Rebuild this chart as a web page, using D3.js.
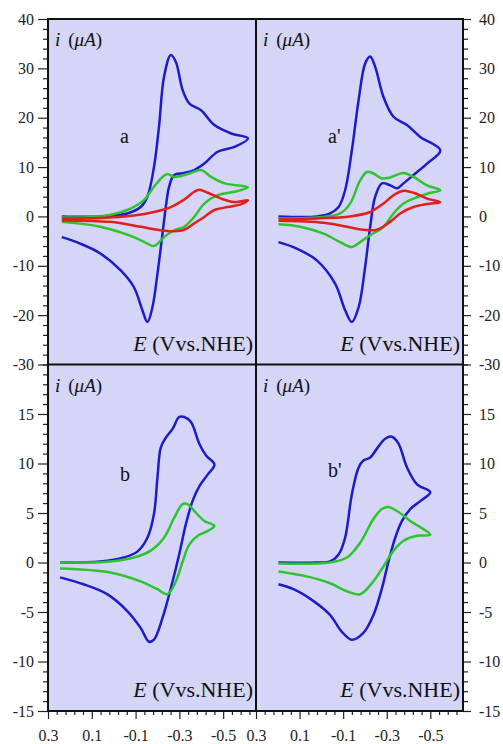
<!DOCTYPE html>
<html>
<head>
<meta charset="utf-8">
<script src="https://cdn.jsdelivr.net/npm/d3@7"></script>
<style>
  body { margin: 0; background: #fff; }
  svg { display: block; }
</style>
</head>
<body>
<div id="chart"></div>
<script>
// CV curves, each point is [E (V vs NHE), i (uA)]
const blueA = [[0.237,0],[0.061,0],[-0.062,0.6],[-0.123,1.9],[-0.154,4],[-0.184,10],[-0.207,18.2],[-0.23,28.3],[-0.261,32.7],[-0.284,31.3],[-0.315,25.6],[-0.345,22.9],[-0.399,21.5],[-0.46,18.5],[-0.537,16.8],[-0.613,15.8],
  [-0.552,14.1],[-0.475,13.1],[-0.414,10.7],[-0.368,9.4],[-0.322,8.8],[-0.276,8.4],[-0.253,6],[-0.238,1.9],[-0.223,-3.5],[-0.2,-11.6],[-0.177,-18.4],[-0.154,-21.4],[-0.131,-19],[-0.092,-14.3],[-0.031,-10.9],[0.061,-7.5],[0.153,-5.5],[0.237,-4.2]];
const greenA = [[0.237,-0.2],[0.061,0],[-0.062,1.3],[-0.138,3.3],[-0.184,6],[-0.223,8],[-0.246,8.6],[-0.276,8],[-0.307,8.2],[-0.353,8.8],[-0.399,9.4],[-0.445,8],[-0.506,6.7],[-0.613,5.9],
  [-0.552,5],[-0.475,4.3],[-0.414,2.6],[-0.368,-0.1],[-0.322,-2.1],[-0.276,-2.8],[-0.23,-4.2],[-0.184,-6],[-0.154,-5.5],[-0.092,-4.2],[0.061,-2.1],[0.237,-1.1]];
const redA = [[0.237,-0.4],[0.061,-0.3],[-0.092,0.2],[-0.184,0.9],[-0.261,1.9],[-0.322,3.4],[-0.368,5],[-0.391,5.4],[-0.43,4.8],[-0.491,3.6],[-0.552,2.9],[-0.613,3.3],
  [-0.583,2.5],[-0.521,1.9],[-0.46,1.3],[-0.414,-0.1],[-0.368,-1.4],[-0.322,-2.7],[-0.276,-3],[-0.215,-2.8],[-0.123,-2.1],[0.015,-1.1],[0.237,-0.8]];

const blueA2 = [[0.197,0],[0.021,0],[-0.04,0.6],[-0.079,1.9],[-0.109,5.3],[-0.14,13.4],[-0.171,23.6],[-0.201,31],[-0.224,32.4],[-0.247,30.3],[-0.285,24.2],[-0.331,20.2],[-0.393,18.5],[-0.454,16.1],[-0.546,13.4],
  [-0.485,10.7],[-0.423,8.4],[-0.377,6.7],[-0.347,5.7],[-0.316,6.3],[-0.278,6.7],[-0.247,4],[-0.224,-2.1],[-0.201,-10.2],[-0.171,-18.4],[-0.14,-21.4],[-0.109,-19],[-0.063,-13.6],[0.021,-8.9],[0.113,-6.5],[0.197,-5.2]];
const greenA2 = [[0.197,-0.4],[-0.01,-0.1],[-0.086,0.6],[-0.132,2.6],[-0.178,7.3],[-0.209,9],[-0.239,8.7],[-0.278,7.7],[-0.316,7.9],[-0.377,8.8],[-0.423,8],[-0.485,6.3],[-0.546,5.3],
  [-0.485,4.6],[-0.423,3.6],[-0.377,2.6],[-0.331,0.6],[-0.285,-2.1],[-0.224,-3.8],[-0.178,-5.2],[-0.14,-6.2],[-0.086,-5.2],[-0.01,-3.5],[0.098,-2.1],[0.197,-1.6]];
const redA2 = [[0.197,-0.6],[0.021,-0.4],[-0.132,0],[-0.224,0.9],[-0.285,2.6],[-0.331,4.3],[-0.377,5.2],[-0.423,4.8],[-0.485,3.6],[-0.546,2.9],
  [-0.485,2.5],[-0.423,1.9],[-0.362,0.6],[-0.316,-1.1],[-0.255,-2.7],[-0.193,-2.7],[-0.117,-2.1],[-0.01,-1.3],[0.197,-0.9]];

const blueB = [[0.245,0],[0.061,0.1],[-0.046,0.5],[-0.108,1.1],[-0.154,2.5],[-0.184,4.9],[-0.2,8.6],[-0.215,11.6],[-0.238,12.6],[-0.269,13.5],[-0.299,14.7],[-0.322,14.7],[-0.353,14.2],[-0.391,12],[-0.422,10.8],[-0.46,9.9],
  [-0.43,8.9],[-0.391,7.7],[-0.36,6.2],[-0.33,3.9],[-0.299,0.8],[-0.261,-2.6],[-0.223,-5.6],[-0.184,-7.8],[-0.161,-8],[-0.123,-6.6],[-0.062,-4.9],[0.03,-3.2],[0.138,-2.2],[0.245,-1.5]];
const greenB = [[0.245,0],[0.015,0.1],[-0.092,0.5],[-0.169,1.2],[-0.23,2.5],[-0.276,4.5],[-0.315,5.9],[-0.338,5.9],[-0.368,5.2],[-0.414,4.2],[-0.46,3.7],
  [-0.43,3.2],[-0.384,2.7],[-0.345,1.8],[-0.315,0.1],[-0.284,-1.9],[-0.246,-3.2],[-0.2,-2.7],[-0.123,-1.9],[0.015,-1],[0.245,-0.6]];

const blueB2 = [[0.197,0],[0.021,0],[-0.04,0.1],[-0.079,0.8],[-0.109,2.5],[-0.14,6.9],[-0.171,9.6],[-0.193,10.3],[-0.224,10.6],[-0.255,11.5],[-0.293,12.5],[-0.324,12.7],[-0.354,12],[-0.393,9.6],[-0.439,7.9],[-0.5,7.1],
  [-0.454,6.2],[-0.408,5.4],[-0.37,4.2],[-0.339,2.5],[-0.308,0.1],[-0.278,-2.6],[-0.239,-5.3],[-0.193,-7.1],[-0.14,-7.8],[-0.094,-7],[-0.04,-5.3],[0.036,-3.9],[0.128,-2.7],[0.197,-2.2]];
const greenB2 = [[0.197,-0.1],[-0.04,0],[-0.117,0.5],[-0.178,2],[-0.239,4.4],[-0.278,5.4],[-0.308,5.6],[-0.347,5.2],[-0.408,4.2],[-0.5,2.8],
  [-0.439,2.7],[-0.377,2.2],[-0.331,1.2],[-0.285,-0.4],[-0.239,-1.9],[-0.178,-3.2],[-0.117,-2.9],[-0.04,-2.1],[0.067,-1.4],[0.197,-0.9]];

// ticks
const xTicks = [0.3, 0.1, -0.1, -0.3, -0.5];
const yTicksTop = [40, 30, 20, 10, 0, -10, -20, -30];
const yTicksBottom = [15, 10, 5, 0, -5, -10, -15];

const FONT = 'Liberation Serif';
const blue = '#1c1cc8', green = '#2fc42f', red = '#e0201c';
const W = 503, H = 744;
const pLeft = 48, pMid = 256, pRight = 463;
const pTop = 19, pSplit = 364.5, pBottom = 711;

const svg = d3.select('#chart').append('svg').attr('width', W).attr('height', H);

const xL = d3.scaleLinear().domain([0.3, -0.65]).range([pLeft, pMid]);
const xR = d3.scaleLinear().domain([0.3, -0.65]).range([pMid, pRight]);
const yT = d3.scaleLinear().domain([-30, 40]).range([pSplit, pTop]);
const yB = d3.scaleLinear().domain([-15, 20]).range([pBottom, pSplit]);

const panels = [
    { x: xL, y: yT, label: 'a', ly: 124, curves: [[blueA, blue], [greenA, green], [redA, red]] },
    { x: xR, y: yT, label: "a'", ly: 124, curves: [[blueA2, blue], [greenA2, green], [redA2, red]] },
    { x: xL, y: yB, label: 'b', ly: 116, curves: [[blueB, blue], [greenB, green]] },
    { x: xR, y: yB, label: "b'", ly: 112, curves: [[blueB2, blue], [greenB2, green]] },
];

// 背景
panels.forEach((p) => {
    const [x0, x1] = p.x.range();
    const [y1, y0] = p.y.range();
    svg.append('rect')
        .attr('x', x0).attr('y', y0)
        .attr('width', x1 - x0).attr('height', y1 - y0)
        .attr('fill', '#d5d5f8');
});

// 曲线 + 文字
panels.forEach((p) => {
    const line = d3.line()
        .x((d) => p.x(d[0]))
        .y((d) => p.y(d[1]))
        .curve(d3.curveCatmullRom.alpha(0.5));
    p.curves.forEach(([data, color]) => {
        svg.append('path')
            .datum(data)
            .attr('d', line)
            .attr('fill', 'none')
            .attr('stroke', color)
            .attr('stroke-width', 2.5)
            .attr('stroke-linejoin', 'round');
    });

    const [x0, x1] = p.x.range();
    const [y1, y0] = p.y.range();
    // i (μA)
    const t = svg.append('text')
        .attr('x', x0 + 7).attr('y', y0 + 27)
        .attr('font-family', FONT)
        .attr('font-size', 19).attr('fill', '#111');
    t.append('tspan').attr('font-style', 'italic').text('i');
    t.append('tspan').attr('dx', 8).text('(');
    t.append('tspan').attr('font-style', 'italic').text('μA');
    t.append('tspan').text(')');

    // E (Vvs.NHE)
    const e = svg.append('text')
        .attr('x', x1 - 3).attr('y', y1 - 14)
        .attr('text-anchor', 'end')
        .attr('font-family', FONT)
        .attr('font-size', 22).attr('fill', '#111');
    e.append('tspan').attr('font-style', 'italic').text('E');
    e.append('tspan').text(' (Vvs.NHE)');

    // 面板字母
    svg.append('text')
        .attr('x', x0 + 72).attr('y', y0 + p.ly)
        .attr('font-family', FONT)
        .attr('font-size', 20).attr('fill', '#111')
        .text(p.label);
});

// 坐标轴
const fmt = (d) => String(d);
const minorY = (domain, step) => d3.range(domain[0], domain[1] + 0.001, step);

function yAxes(scale, major, step) {
    const minor = minorY(scale.domain(), step).filter((v) => !major.includes(v));
    svg.append('g').attr('transform', `translate(${pLeft},0)`)
        .call(d3.axisLeft(scale).tickValues(minor).tickSize(5).tickFormat(''));
    svg.append('g').attr('transform', `translate(${pLeft},0)`)
        .call(d3.axisLeft(scale).tickValues(major).tickSize(10).tickPadding(4).tickFormat(fmt));
    svg.append('g').attr('transform', `translate(${pRight},0)`)
        .call(d3.axisRight(scale).tickValues(minor).tickSize(5).tickFormat(''));
    svg.append('g').attr('transform', `translate(${pRight},0)`)
        .call(d3.axisRight(scale).tickValues(major).tickSize(8).tickPadding(8).tickFormat(fmt));
}
yAxes(yT, yTicksTop, 2);
yAxes(yB, yTicksBottom, 1);

[xL, xR].forEach((xs) => {
    const minor = d3.range(0.3, -0.66, -0.04).map((v) => +v.toFixed(2))
        .filter((v) => !xTicks.some((m) => Math.abs(m - v) < 1e-6));
    svg.append('g').attr('transform', `translate(0,${pBottom})`)
        .call(d3.axisBottom(xs).tickValues(minor).tickSize(4).tickFormat(''));
    svg.append('g').attr('transform', `translate(0,${pBottom})`)
        .call(d3.axisBottom(xs).tickValues(xTicks).tickSize(8).tickPadding(11).tickFormat(fmt));
});

svg.selectAll('.domain').remove();
svg.selectAll('.tick line').attr('stroke', '#222').attr('stroke-width', 1.2);
svg.selectAll('.tick text')
    .attr('font-family', FONT)
    .attr('font-size', 16)
    .attr('fill', '#222');

// 边框
const border = svg.append('g').attr('stroke', '#111').attr('stroke-width', 2).attr('fill', 'none');
border.append('rect').attr('x', pLeft).attr('y', pTop).attr('width', pRight - pLeft).attr('height', pBottom - pTop);
border.append('line').attr('x1', pMid).attr('x2', pMid).attr('y1', pTop).attr('y2', pBottom);
border.append('line').attr('x1', pLeft).attr('x2', pRight).attr('y1', pSplit).attr('y2', pSplit);
</script>
</body>
</html>
